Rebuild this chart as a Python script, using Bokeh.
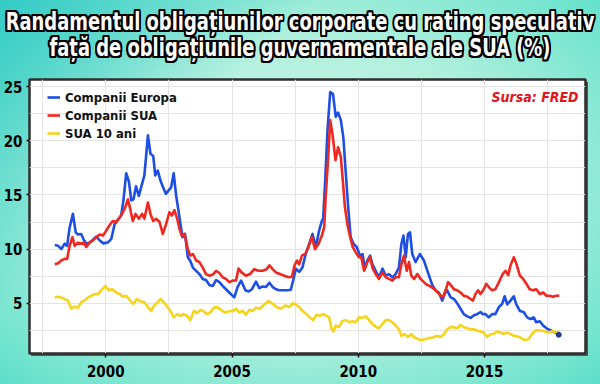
from bokeh.plotting import figure
from bokeh.models import Range1d, FixedTicker, Label, Legend, LegendItem, Div
from bokeh.layouts import column
from bokeh.embed import file_html
from bokeh.resources import INLINE

# ---------------- data ----------------
eu_x = [1997.98, 1998.11, 1998.24, 1998.37, 1998.47, 1998.57, 1998.70, 1998.81, 1998.90, 1999.03,
        1999.12, 1999.23, 1999.36, 1999.49, 1999.62, 1999.76, 1999.91, 2000.09, 2000.22, 2000.35,
        2000.48, 2000.61, 2000.70, 2000.81, 2000.92, 2001.01, 2001.10, 2001.20, 2001.31, 2001.40,
        2001.53, 2001.67, 2001.77, 2001.88, 2001.96, 2002.06, 2002.17, 2002.27, 2002.38, 2002.48,
        2002.59, 2002.69, 2002.79, 2002.88, 2002.96, 2003.04, 2003.14, 2003.25, 2003.35, 2003.45,
        2003.58, 2003.71, 2003.84, 2003.97, 2004.10, 2004.24, 2004.37, 2004.50, 2004.63, 2004.76,
        2004.89, 2005.09, 2005.22, 2005.36, 2005.53, 2005.66, 2005.79, 2005.95, 2006.08, 2006.21,
        2006.34, 2006.48, 2006.61, 2006.74, 2006.87, 2007.00, 2007.20, 2007.33, 2007.42, 2007.53,
        2007.66, 2007.79, 2007.92, 2008.06, 2008.19, 2008.32, 2008.45, 2008.56, 2008.61, 2008.69,
        2008.78, 2008.89, 2009.00, 2009.11, 2009.20, 2009.31, 2009.41, 2009.51, 2009.60, 2009.70,
        2009.81, 2009.94, 2010.07, 2010.17, 2010.26, 2010.36, 2010.47, 2010.56, 2010.69, 2010.82,
        2010.96, 2011.09, 2011.22, 2011.35, 2011.48, 2011.61, 2011.71, 2011.79, 2011.88, 2011.97,
        2012.05, 2012.14, 2012.27, 2012.44, 2012.60, 2012.76, 2012.93, 2013.06, 2013.19, 2013.33,
        2013.43, 2013.52, 2013.66, 2013.79, 2013.92, 2014.05, 2014.18, 2014.32, 2014.45, 2014.58,
        2014.71, 2014.84, 2014.93, 2015.04, 2015.17, 2015.30, 2015.43, 2015.57, 2015.70, 2015.80,
        2015.90, 2016.03, 2016.16, 2016.26, 2016.40, 2016.55, 2016.69, 2016.82, 2016.95, 2017.05,
        2017.19, 2017.32, 2017.48, 2017.63, 2017.81, 2017.94]
eu_y = [10.38, 10.32, 10.0, 10.5, 10.3, 12.0, 13.25, 11.55, 11.35, 11.4,
        10.9, 10.5, 10.6, 10.85, 11.15, 10.8, 10.53, 10.63, 10.94, 12.3,
        12.7, 13.1, 14.5, 17.0, 16.2, 14.5, 14.6, 15.8, 14.9, 15.7,
        16.8, 20.5, 18.8, 18.6, 16.8, 17.25, 16.3, 15.7, 15.1, 15.4,
        15.7, 17.0, 14.9, 13.55, 12.3, 11.1, 11.4, 9.25, 8.9, 8.3,
        8.0, 7.7, 7.25, 7.15, 6.7, 6.6, 7.15, 6.95, 6.6, 6.3,
        6.0, 5.55, 6.5, 7.1, 6.2, 6.1, 6.3, 7.0, 6.4, 6.55,
        6.5, 6.9, 6.5, 6.3, 6.2, 6.2, 6.2, 6.25, 7.1, 8.2,
        7.9, 8.3, 9.55, 10.5, 11.4, 10.2, 11.7, 12.6, 12.8, 16.3,
        20.9, 24.5, 24.3, 22.2, 22.6, 21.9, 20.3, 16.9, 13.9, 11.1,
        10.5, 10.2, 9.4, 9.55, 8.2, 8.95, 9.4, 8.6, 8.0, 7.4,
        8.2, 7.55, 7.7, 7.4, 7.7, 8.3, 10.5, 11.25, 9.25, 11.4,
        11.55, 9.55, 8.8, 9.55, 8.95, 7.85, 6.7, 6.2, 6.0, 5.25,
        5.9, 6.2, 5.55, 5.4, 5.0, 4.5, 4.0, 3.8, 3.65, 3.9,
        4.0, 4.2, 4.0, 4.0, 3.7, 4.0, 4.0, 4.65, 4.95, 5.65,
        4.9, 5.25, 5.65, 4.9, 4.3, 4.2, 3.7, 3.55, 3.7, 3.25,
        3.35, 2.95, 2.65, 2.5, 2.3, 2.1]

us_x = [1997.98, 1998.11, 1998.24, 1998.37, 1998.47, 1998.57, 1998.68, 1998.77, 1998.90, 1999.03,
        1999.12, 1999.23, 1999.36, 1999.49, 1999.62, 1999.76, 1999.89, 2000.02, 2000.15, 2000.28,
        2000.41, 2000.55, 2000.68, 2000.78, 2000.88, 2000.97, 2001.07, 2001.18, 2001.31, 2001.44,
        2001.53, 2001.67, 2001.77, 2001.88, 2002.00, 2002.13, 2002.26, 2002.39, 2002.52, 2002.62,
        2002.72, 2002.83, 2002.92, 2003.01, 2003.12, 2003.25, 2003.35, 2003.45, 2003.58, 2003.71,
        2003.84, 2003.97, 2004.10, 2004.24, 2004.37, 2004.50, 2004.63, 2004.76, 2004.89, 2005.03,
        2005.16, 2005.26, 2005.36, 2005.55, 2005.71, 2005.88, 2006.05, 2006.21, 2006.37, 2006.48,
        2006.61, 2006.74, 2006.90, 2007.07, 2007.24, 2007.37, 2007.48, 2007.57, 2007.66, 2007.77,
        2007.90, 2008.03, 2008.16, 2008.29, 2008.43, 2008.56, 2008.65, 2008.71, 2008.81, 2008.89,
        2008.98, 2009.10, 2009.20, 2009.31, 2009.39, 2009.47, 2009.57, 2009.68, 2009.78, 2009.90,
        2010.03, 2010.12, 2010.23, 2010.36, 2010.47, 2010.56, 2010.69, 2010.82, 2010.96, 2011.09,
        2011.22, 2011.35, 2011.48, 2011.61, 2011.71, 2011.81, 2011.92, 2012.01, 2012.10, 2012.21,
        2012.34, 2012.47, 2012.60, 2012.73, 2012.87, 2013.06, 2013.19, 2013.35, 2013.46, 2013.56,
        2013.66, 2013.79, 2013.92, 2014.05, 2014.18, 2014.32, 2014.45, 2014.54, 2014.64, 2014.75,
        2014.84, 2014.97, 2015.07, 2015.17, 2015.30, 2015.43, 2015.57, 2015.72, 2015.83, 2015.94,
        2016.03, 2016.16, 2016.27, 2016.40, 2016.53, 2016.66, 2016.79, 2016.92, 2017.05, 2017.19,
        2017.32, 2017.45, 2017.58, 2017.71, 2017.85, 2017.96]
us_y = [8.6, 8.7, 8.95, 9.1, 9.1, 10.3, 11.1, 10.3, 10.6, 10.5,
        10.6, 10.2, 10.6, 10.8, 11.1, 11.35, 11.25, 11.7, 12.2, 12.6,
        12.5, 12.9, 13.4, 13.9, 14.6, 13.7, 12.6, 13.25, 12.8, 13.25,
        12.8, 14.3, 13.25, 12.6, 12.8, 12.5, 11.4, 12.3, 13.4, 13.1,
        13.6, 12.8, 11.85, 11.25, 11.4, 10.0, 9.4, 9.55, 8.95, 8.8,
        8.3, 7.7, 7.55, 7.65, 8.0, 7.8, 7.4, 7.25, 6.95, 7.1,
        7.1, 8.2, 7.9, 7.55, 7.7, 8.15, 8.0, 8.0, 8.15, 8.5,
        8.15, 7.85, 7.7, 7.55, 7.4, 7.45, 8.5, 8.95, 8.6, 9.4,
        9.55, 10.2, 11.1, 10.0, 10.5, 11.25, 12.0, 14.8, 18.5, 21.9,
        20.6, 18.2, 19.4, 18.5, 16.3, 13.9, 12.3, 11.1, 10.2, 9.7,
        9.25, 9.25, 8.0, 8.8, 9.25, 8.3, 7.7, 7.25, 7.85, 7.4,
        7.25, 7.1, 7.4, 7.4, 8.6, 9.4, 8.0, 8.8, 7.55, 7.25,
        7.7, 7.25, 6.95, 6.7, 6.55, 6.2, 5.9, 5.55, 6.2, 6.95,
        6.7, 6.3, 6.2, 6.0, 5.7, 5.6, 5.4, 5.25, 5.85, 6.2,
        5.85, 6.3, 6.8, 6.5, 6.2, 6.3, 6.95, 7.7, 8.0, 7.6,
        8.5, 9.25, 8.6, 7.55, 7.25, 6.8, 6.3, 6.2, 6.3, 5.85,
        6.0, 5.7, 5.7, 5.6, 5.7, 5.7]

t10_x = [1997.98, 1998.18, 1998.37, 1998.50, 1998.64, 1998.77, 1998.90, 1999.03, 1999.16, 1999.30,
         1999.43, 1999.56, 1999.69, 1999.82, 1999.99, 2000.12, 2000.26, 2000.41, 2000.55, 2000.68,
         2000.81, 2000.97, 2001.10, 2001.23, 2001.36, 2001.53, 2001.67, 2001.80, 2001.93, 2002.06,
         2002.17, 2002.30, 2002.43, 2002.56, 2002.69, 2002.83, 2002.96, 2003.09, 2003.22, 2003.35,
         2003.49, 2003.62, 2003.75, 2003.88, 2004.01, 2004.14, 2004.28, 2004.41, 2004.57, 2004.72,
         2004.86, 2005.03, 2005.16, 2005.29, 2005.42, 2005.55, 2005.69, 2005.82, 2005.95, 2006.11,
         2006.28, 2006.45, 2006.61, 2006.77, 2006.94, 2007.11, 2007.27, 2007.40, 2007.53, 2007.66,
         2007.79, 2007.95, 2008.08, 2008.21, 2008.35, 2008.48, 2008.61, 2008.74, 2008.85, 2008.95,
         2009.02, 2009.11, 2009.24, 2009.37, 2009.51, 2009.64, 2009.77, 2009.90, 2010.03, 2010.17,
         2010.30, 2010.43, 2010.56, 2010.69, 2010.82, 2010.96, 2011.09, 2011.22, 2011.35, 2011.48,
         2011.61, 2011.71, 2011.84, 2011.97, 2012.10, 2012.23, 2012.37, 2012.50, 2012.67, 2012.80,
         2012.96, 2013.13, 2013.26, 2013.39, 2013.52, 2013.66, 2013.79, 2013.92, 2014.05, 2014.18,
         2014.32, 2014.45, 2014.58, 2014.71, 2014.84, 2014.97, 2015.10, 2015.24, 2015.37, 2015.50,
         2015.63, 2015.76, 2015.90, 2016.03, 2016.16, 2016.29, 2016.42, 2016.58, 2016.75, 2016.88,
         2017.02, 2017.19, 2017.34, 2017.54, 2017.71, 2017.87, 2017.98]
t10_y = [5.55, 5.6, 5.4, 5.25, 4.5, 4.7, 4.6, 5.1, 5.25, 5.55,
         5.7, 5.85, 5.85, 6.2, 6.6, 6.2, 6.3, 6.0, 5.85, 5.6,
         5.7, 5.25, 4.95, 5.4, 5.2, 5.1, 4.65, 4.3, 4.85, 5.1,
         5.4, 5.1, 4.7, 4.3, 3.7, 4.0, 3.85, 4.0, 3.85, 3.45,
         4.3, 4.1, 4.4, 4.25, 4.0, 4.15, 4.6, 4.65, 4.4, 4.15,
         4.25, 4.3, 4.5, 4.15, 4.3, 3.95, 4.4, 4.3, 4.6, 4.5,
         4.9, 5.2, 4.95, 4.65, 4.5, 4.8, 4.65, 5.0, 4.9, 4.65,
         4.3, 4.0, 3.7, 3.45, 3.95, 3.85, 4.0, 3.85, 3.7, 2.6,
         2.4, 2.95, 2.8, 3.35, 3.45, 3.25, 3.35, 3.25, 3.7, 3.65,
         3.8, 3.45, 3.1, 2.85, 2.7, 3.1, 3.45, 3.45, 3.25, 2.95,
         2.6, 2.0, 2.15, 1.9, 2.15, 1.85, 1.7, 1.6, 1.7, 1.8,
         1.85, 2.0, 1.9, 2.15, 2.6, 2.8, 2.8, 2.7, 3.0, 2.8,
         2.7, 2.6, 2.6, 2.5, 2.4, 2.3, 1.9, 2.15, 2.2, 2.4,
         2.3, 2.2, 2.3, 2.15, 2.0, 1.95, 1.85, 1.6, 1.7, 2.15,
         2.5, 2.5, 2.45, 2.3, 2.45, 2.3, 2.4]

series_names = ["Companii Europa", "Companii SUA", "SUA 10 ani"]
x_major_ticks = [2000, 2005, 2010, 2015]
x_minor_ticks = [1997.5, 2002.5, 2007.5, 2012.5, 2017.5]
y_major_ticks = [5, 10, 15, 20, 25]
y_minor_ticks = [2.5, 7.5, 12.5, 17.5, 22.5]
title_lines = ["Randamentul obligațiunilor corporate cu rating speculativ",
               "față de obligațiunile guvernamentale ale SUA (%)"]
source_text = "Sursa: FRED"

# ---------------- styling ----------------
FONT = "DejaVu Sans Condensed"
BLUE, RED, YELLOW = "#1d4fe4", "#f0281f", "#f6d41c"
GRID = "#e4e4e4"

TITLE_H = 66
W, H = 600, 384
ML, MR, MT, MB = 28, 15, 79 - TITLE_H, 31
FH = H - TITLE_H - MT - MB
FW = W - ML - MR

outline = ", ".join(f"{dx}px {dy}px 0 #000" for dx, dy in
                    [(-2, 0), (2, 0), (0, -2), (0, 2), (-2, -2), (2, -2), (-2, 2), (2, 2),
                     (-1, -2), (1, -2), (-1, 2), (1, 2), (-2, -1), (2, -1), (-2, 1), (2, 1)])
title_html = (
    "<div style=\"position: relative; width: 600px; height: 66px;\">"
    f"<div style=\"position: absolute; left: 50%; top: 9px; white-space: nowrap; "
    f"transform: translateX(-50%) scaleX(0.83); "
    f"font-family: '{FONT}', sans-serif; font-weight: bold; font-size: 24px; "
    f"line-height: 26px; color: white; text-align: center; text-shadow: {outline};\">"
    + "<br>".join(title_lines) + "</div></div>"
)
title_div = Div(text=title_html, width=W, height=TITLE_H, margin=0)

p = figure(width=W, height=H - TITLE_H, output_backend="svg", toolbar_location=None,
           x_range=Range1d(1996.98, 2019.0), y_range=Range1d(0.37, 25.65),
           min_border_left=ML, min_border_right=MR, min_border_top=MT, min_border_bottom=MB,
           margin=0)

p.border_fill_color = None
p.background_fill_color = "white"
p.outline_line_color = "#2e2e2e"
p.outline_line_width = 2.5

for ax in (p.xaxis[0], p.yaxis[0]):
    ax.axis_line_color = None
    ax.major_tick_line_color = "#111111"
    ax.major_tick_line_width = 1.5
    ax.minor_tick_line_color = None
    ax.major_tick_in = 0
    ax.major_label_text_font = FONT
    ax.major_label_text_font_style = "bold"
    ax.major_label_text_color = "black"
    ax.major_label_text_font_size = "15px"

p.xaxis.ticker = FixedTicker(ticks=x_major_ticks, minor_ticks=x_minor_ticks)
p.yaxis.ticker = FixedTicker(ticks=y_major_ticks, minor_ticks=y_minor_ticks)
p.xaxis.major_tick_out = 4
p.yaxis.major_tick_out = 3
p.xaxis.major_label_standoff = 7
p.yaxis.major_label_standoff = 3

for g in (p.xgrid[0], p.ygrid[0]):
    g.grid_line_color = GRID
    g.grid_line_width = 1
    g.minor_grid_line_color = GRID
    g.minor_grid_line_width = 1

r_eu = p.line(eu_x, eu_y, line_color=BLUE, line_width=2.6, line_join="round")
r_us = p.line(us_x, us_y, line_color=RED, line_width=2.6, line_join="round")
r_t10 = p.line(t10_x, t10_y, line_color=YELLOW, line_width=2.6, line_join="round")
p.scatter([eu_x[-1]], [eu_y[-1]], size=5, color="#1a3a9a")

legend = Legend(items=[LegendItem(label=series_names[0], renderers=[r_eu]),
                       LegendItem(label=series_names[1], renderers=[r_us]),
                       LegendItem(label=series_names[2], renderers=[r_t10])],
                location=(18, FH - 62), padding=0, margin=0, spacing=2,
                glyph_width=13, glyph_height=16, label_height=16, label_standoff=5,
                label_text_font=FONT, label_text_font_style="bold",
                label_text_font_size="13px", label_text_color="#111111",
                background_fill_alpha=0, border_line_color=None)
p.add_layout(legend)

p.add_layout(Label(x=FW - 8, y=FH - 17, x_units="screen", y_units="screen",
                   text=source_text, text_align="right", text_baseline="middle",
                   text_font=FONT, text_font_style="bold italic",
                   text_font_size="14px", text_color="#e3141c"))

shadow = (f"linear-gradient(#555555, #555555) {ML + 3}px {TITLE_H + MT + 3}px / "
          f"{FW}px {FH}px no-repeat")
layout = column(title_div, p, spacing=0, margin=0, styles={
    "position": "absolute", "left": "0px", "top": "0px",
    "width": "600px", "height": "384px",
    "background": shadow + ", "
                  "linear-gradient(135deg, rgba(44,200,196,0.85) 0%, rgba(44,200,196,0) 32%), "
                  "radial-gradient(ellipse 78% 82% at 50% 48%, #d2f7ec 0%, #b2f0de 45%, "
                  "#72e4ce 80%, #48d8c9 100%)",
})

open("out.html", "w").write(file_html(layout, INLINE))
